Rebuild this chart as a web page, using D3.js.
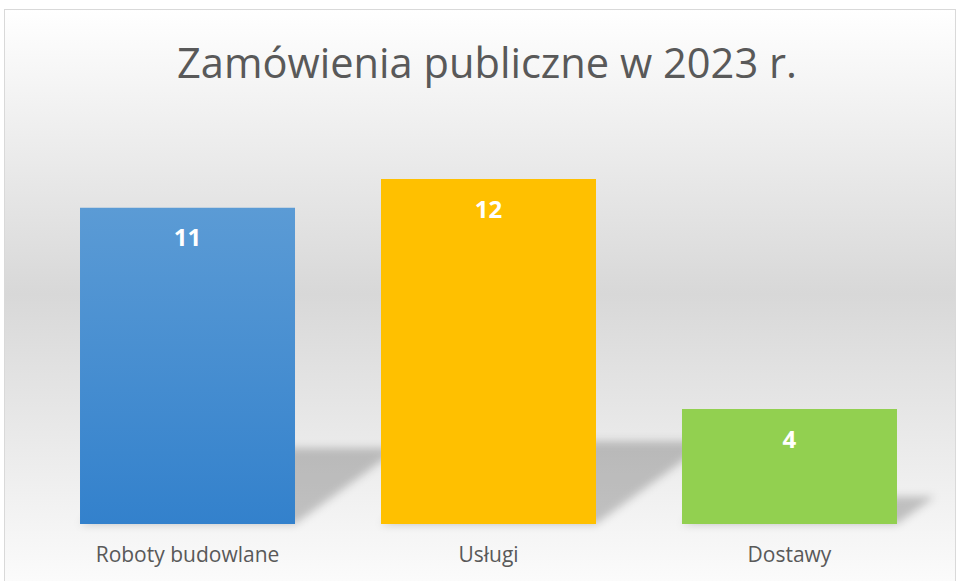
<!DOCTYPE html>
<html>
<head>
<meta charset="utf-8">
<script src="https://cdn.jsdelivr.net/npm/d3@7"></script>
<style>
  html, body { margin: 0; padding: 0; background: #fff; }
  svg { display: block; }
</style>
</head>
<body>
<div id="app"></div>
<script>
const width = 957,
    height = 581;

const title = "Zamówienia publiczne w 2023 r.";
const categories = ["Roboty budowlane", "Usługi", "Dostawy"];
const values = [11, 12, 4];
const barColors = ["url(#blueGrad)", "#FFC000", "#92D050"];

const font = "Open Sans, Noto Sans, sans-serif";

// band layout: bars 215px wide, 301px apart
var x = d3.scaleBand().domain(categories).range([37, 940])
    .paddingInner(0.2857).paddingOuter(0.1429);
var y = d3.scaleLinear().domain([0, 14]).range([524, 121.5]);

const svg = d3.select("#app")
    .append("svg")
    .attr("width", width)
    .attr("height", height);

const defs = svg.append("defs");

const bg = defs.append("linearGradient")
    .attr("id", "bgGrad")
    .attr("x1", 0).attr("y1", 0).attr("x2", 0).attr("y2", 1);
bg.append("stop").attr("offset", "0").attr("stop-color", "#ffffff");
bg.append("stop").attr("offset", "0.49").attr("stop-color", "#d8d8d8");
bg.append("stop").attr("offset", "1").attr("stop-color", "#fcfcfc");

const blue = defs.append("linearGradient")
    .attr("id", "blueGrad")
    .attr("x1", 0).attr("y1", 0).attr("x2", 0).attr("y2", 1);
blue.append("stop").attr("offset", "0").attr("stop-color", "#5B9BD5");
blue.append("stop").attr("offset", "1").attr("stop-color", "#3381CC");

defs.append("filter")
    .attr("id", "blur")
    .attr("x", "-20%").attr("y", "-20%").attr("width", "140%").attr("height", "140%")
    .append("feGaussianBlur")
    .attr("stdDeviation", 4);

// chart area with border
svg.append("rect")
    .attr("x", 4.5)
    .attr("y", 9.5)
    .attr("width", 951)
    .attr("height", 580)
    .attr("fill", "url(#bgGrad)")
    .attr("stroke", "#d9d9d9")
    .attr("stroke-width", 1);

// title, sized to fill its width
const t = svg.append("text")
    .attr("x", 487)
    .attr("y", 78)
    .attr("text-anchor", "middle")
    .attr("font-family", font)
    .attr("font-size", 40)
    .attr("fill", "#595959")
    .text(title);
const tw = t.node().getComputedTextLength();
t.attr("font-size", 40 * 620 / tw);

// perspective shadows
const base = y(0);
svg.append("g")
    .attr("filter", "url(#blur)")
    .selectAll("polygon")
    .data(values).enter()
    .append("polygon")
    .attr("points", function (d, i) {
        const x0 = x(categories[i]), x1 = x0 + x.bandwidth();
        const h = base - y(d);
        const dx = 0.33 * h, dy = 0.24 * h;
        return [[x0, base], [x1, base], [x1 + dx, base - dy], [x0 + dx, base - dy]].join(" ");
    })
    .attr("fill", "#000")
    .attr("fill-opacity", 0.21);

// bars
svg.append("g").selectAll("rect")
    .data(values).enter()
    .append("rect")
    .attr("x", function (_, i) {return x(categories[i])})
    .attr("y", function (d) {return y(d)})
    .attr("width", x.bandwidth())
    .attr("height", function (d) {return base - y(d)})
    .attr("fill", function (_, i) {return barColors[i]});

// value labels
svg.append("g").selectAll("text")
    .data(values).enter()
    .append("text")
    .attr("x", function (_, i) {return x(categories[i]) + x.bandwidth() / 2})
    .attr("y", function (d) {return y(d) + 38.5})
    .attr("text-anchor", "middle")
    .attr("font-family", font)
    .attr("font-weight", "bold")
    .attr("font-size", 24)
    .attr("fill", "#ffffff")
    .text(function (d) {return d});

// category labels
svg.append("g").selectAll("text")
    .data(categories).enter()
    .append("text")
    .attr("x", function (d) {return x(d) + x.bandwidth() / 2})
    .attr("y", 562)
    .attr("text-anchor", "middle")
    .attr("font-family", font)
    .attr("font-size", 21)
    .attr("fill", "#595959")
    .text(function (d) {return d});
</script>
</body>
</html>
